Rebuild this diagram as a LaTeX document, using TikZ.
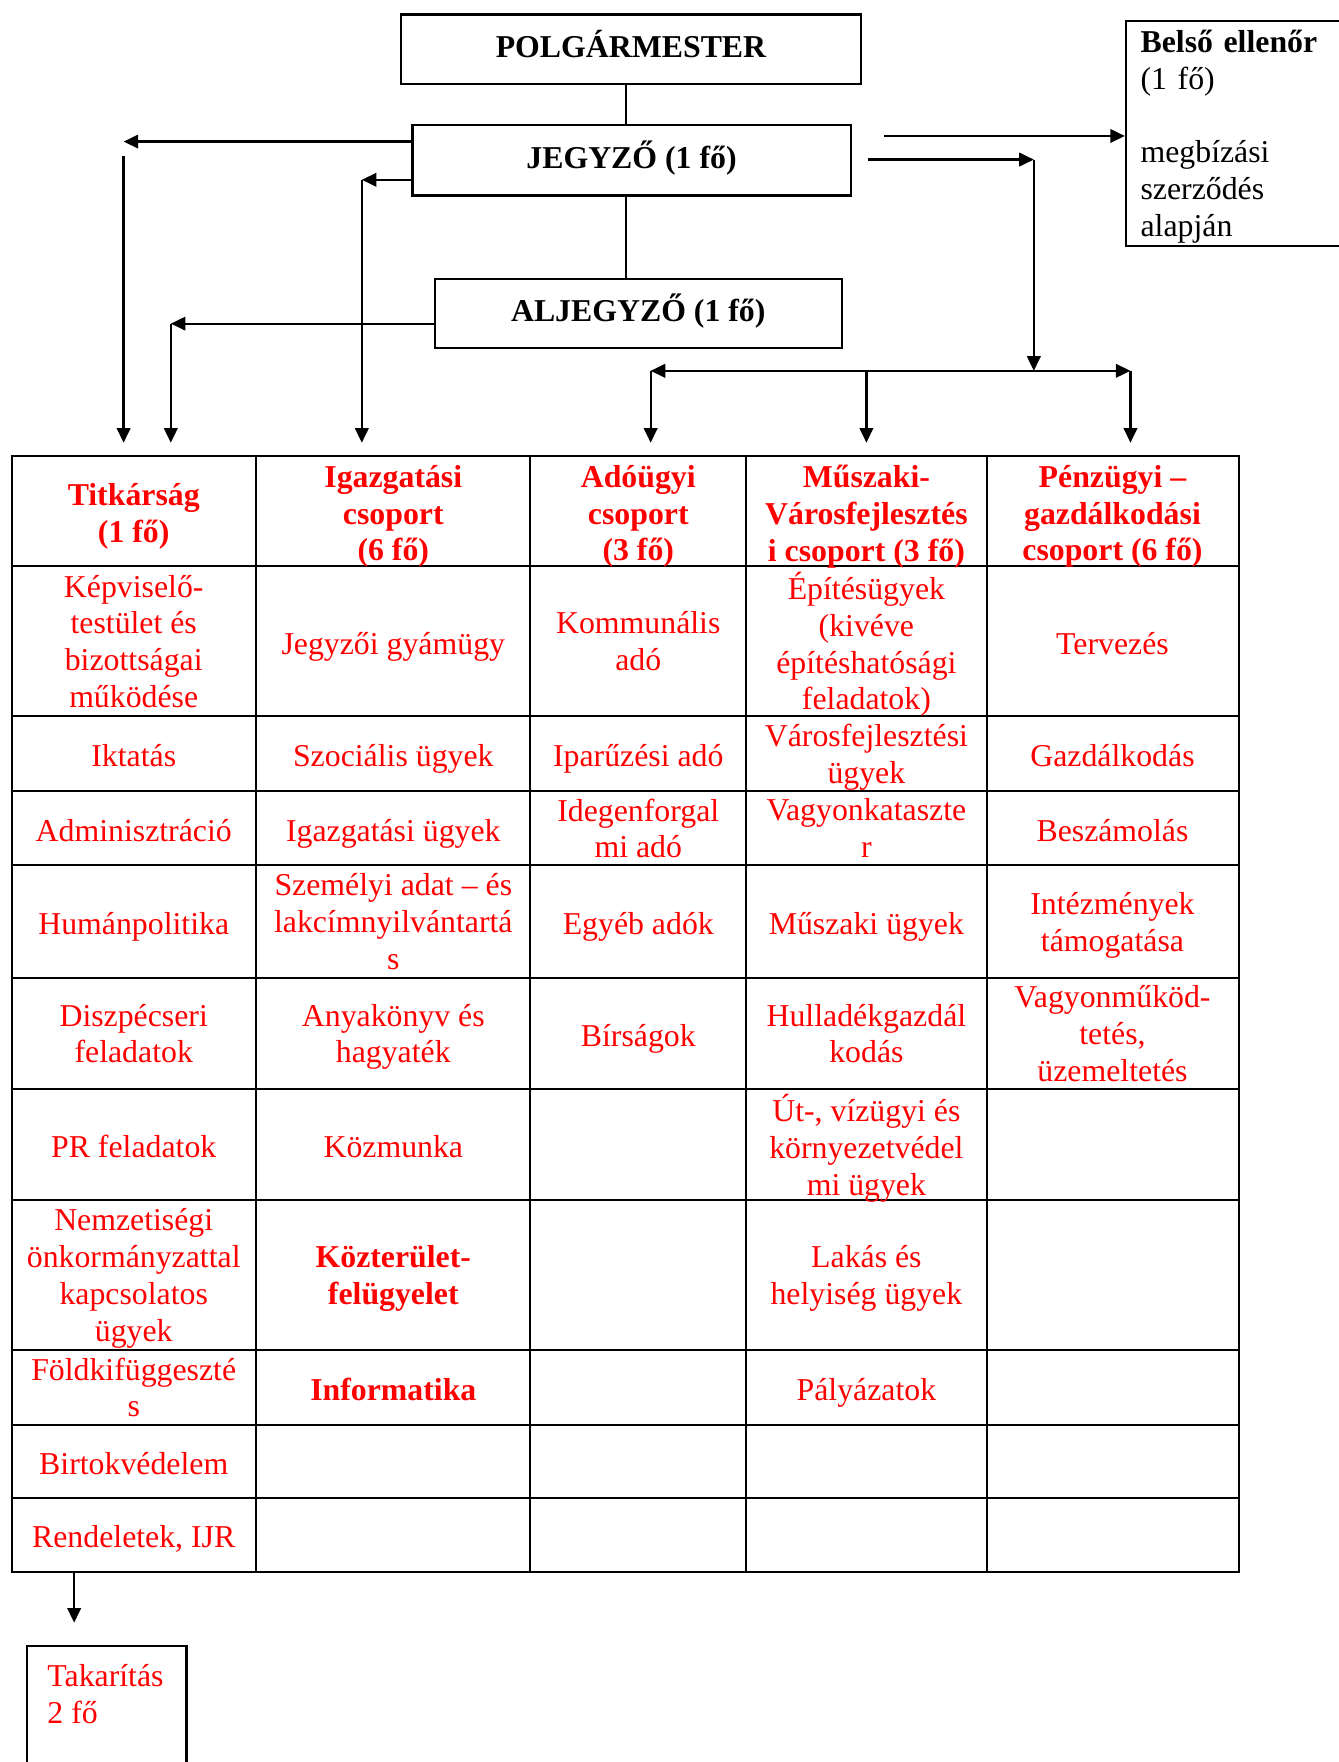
\documentclass[tikz,border=0pt]{standalone}
\usepackage{fontspec}
\setmainfont{Liberation Serif}
\usetikzlibrary{arrows.meta}
\newcommand{\cellfont}{\fontsize{28.3}{32.7}\selectfont}
\begin{document}
\begin{tikzpicture}[x=1pt,y=-1pt,
  tipA/.tip={Triangle[length=13pt,width=12pt]},
  arr/.style={line width=2pt,-{tipA}},
  dblarr/.style={line width=2pt,{tipA}-{tipA}},
  link/.style={line width=1.6pt},
  topbox/.style={draw,line width=2pt,inner sep=0pt,font=\cellfont\bfseries,
    execute at begin node=\strut,execute at end node=\strut},
  cell/.style={text=red,align=center,inner sep=0pt,font=\cellfont,yshift=-5pt,
    execute at begin node=\strut,execute at end node=\strut},
  boldcell/.style={cell,font=\cellfont\bfseries},
  hdr/.style={boldcell,yshift=-2pt},
  grid/.style={line width=1.8pt}]
\useasboundingbox (0,0) rectangle (1191,1568);
\fill[white] (0,0) rectangle (1191,1568);

% ---- top boxes ----
\node[topbox,minimum width=409,minimum height=62] (polg) at (561.5,44) {POLGÁRMESTER};
\node[topbox,minimum width=390,minimum height=63] (jegy) at (562,142.5) {JEGYZŐ (1 fő)};
\node[topbox,minimum width=362,minimum height=62] (aljegy) at (568,279) {ALJEGYZŐ (1 fő)};
\node[draw,line width=2pt,anchor=north west,inner xsep=13pt,inner ysep=0pt,
  text width=180pt,minimum height=200,align=left,font=\cellfont,
  execute at begin node=\strut,execute at end node=\strut] (belso) at (1001,18)
  {\raisebox{-3pt}{\textbf{Belső ellenőr}}\\\raisebox{-3pt}{(1 fő)}\\\strut\\\raisebox{-3pt}{megbízási}\\\raisebox{-3pt}{szerződés}\\\raisebox{-3pt}{alapján}};

% ---- coordinates ----
\coordinate (spine) at (557,0);
\coordinate (L1) at (110,126);
\coordinate (L1s) at (110,139);
\coordinate (L1e) at (110,394);
\coordinate (L2) at (322,160);
\coordinate (L2e) at (322,394);
\coordinate (L3) at (152,288);
\coordinate (L3e) at (152,394);
\coordinate (R1s) at (787,121);
\coordinate (R2s) at (772,142);
\coordinate (R2) at (920,142);
\coordinate (bus) at (920,330);
\coordinate (BL) at (579,330);
\coordinate (BM) at (771,330);
\coordinate (BR) at (1006,330);
\coordinate (BLe) at (579,394);
\coordinate (BMe) at (771,394);
\coordinate (BRe) at (1006,394);
\coordinate (T1) at (66,1398);
\coordinate (T1e) at (66,1444);

% ---- connectors ----
\draw[link] (polg.south -| spine) -- (jegy.north -| spine);
\draw[link] (jegy.south -| spine) -- (aljegy.north -| spine);
\draw[arr] (L1 -| jegy.west) -- (L1);
\draw[arr] (L1s) -- (L1e);
\draw[arr] (L2 -| jegy.west) -- (L2);
\draw[arr] (L2) -- (L2e);
\draw[arr] (L3 -| aljegy.west) -- (L3);
\draw[arr] (L3) -- (L3e);
\draw[arr] (R1s) -- (R1s -| belso.west);
\draw[arr] (R2s) -- (R2);
\draw[arr] (R2) -- (bus);
\draw[dblarr] (BL) -- (BR);
\draw[arr] (BL) -- (BLe);
\draw[arr] (BM) -- (BMe);
\draw[arr] (BR) -- (BRe);

% ---- table ----
\node[draw,grid,anchor=north west,inner sep=0pt,minimum width=1092,minimum height=993] (tbl) at (10,405) {};
\foreach \x in {228,472,664,878} \draw[grid] (\x,405) -- (\x,1398);
\foreach \y in {504,637,704,770,870,969,1068,1201,1268,1333} \draw[grid] (10,\y) -- (1102,\y);

% header
\node[hdr] (h1) at (119,454.5) {Titkárság\\(1 fő)};
\node[hdr] (h2) at (350,454.5) {Igazgatási\\csoport\\(6 fő)};
\node[hdr] (h3) at (568,454.5) {Adóügyi\\csoport\\(3 fő)};
\node[hdr] (h4) at (771,454.5) {Műszaki-\\Városfejlesztés\\i csoport (3 fő)};
\node[hdr] (h5) at (990,454.5) {Pénzügyi –\\gazdálkodási\\csoport (6 fő)};
% row 1
\node[cell] (c11) at (119,570.5) {Képviselő-\\testület és\\bizottságai\\működése};
\node[cell] (c12) at (350,570.5) {Jegyzői gyámügy};
\node[cell] (c13) at (568,570.5) {Kommunális\\adó};
\node[cell] (c14) at (771,570.5) {Építésügyek\\(kivéve\\építéshatósági\\feladatok)};
\node[cell] (c15) at (990,570.5) {Tervezés};
% row 2
\node[cell] (c21) at (119,670.5) {Iktatás};
\node[cell] (c22) at (350,670.5) {Szociális ügyek};
\node[cell] (c23) at (568,670.5) {Iparűzési adó};
\node[cell] (c24) at (771,670.5) {Városfejlesztési\\ügyek};
\node[cell] (c25) at (990,670.5) {Gazdálkodás};
% row 3
\node[cell] (c31) at (119,737) {Adminisztráció};
\node[cell] (c32) at (350,737) {Igazgatási ügyek};
\node[cell] (c33) at (568,737) {Idegenforgal\\mi adó};
\node[cell] (c34) at (771,737) {Vagyonkataszte\\r};
\node[cell] (c35) at (990,737) {Beszámolás};
% row 4
\node[cell] (c41) at (119,820) {Humánpolitika};
\node[cell] (c42) at (350,820) {Személyi adat – és\\lakcímnyilvántartá\\s};
\node[cell] (c43) at (568,820) {Egyéb adók};
\node[cell] (c44) at (771,820) {Műszaki ügyek};
\node[cell] (c45) at (990,820) {Intézmények\\támogatása};
% row 5
\node[cell] (c51) at (119,919.5) {Diszpécseri\\feladatok};
\node[cell] (c52) at (350,919.5) {Anyakönyv és\\hagyaték};
\node[cell] (c53) at (568,919.5) {Bírságok};
\node[cell] (c54) at (771,919.5) {Hulladékgazdál\\kodás};
\node[cell] (c55) at (990,919.5) {Vagyonműköd-\\tetés,\\üzemeltetés};
% row 6
\node[cell] (c61) at (119,1018.5) {PR feladatok};
\node[cell] (c62) at (350,1018.5) {Közmunka};
\node[cell] (c64) at (771,1018.5) {Út-, vízügyi és\\környezetvédel\\mi ügyek};
% row 7
\node[cell] (c71) at (119,1134.5) {Nemzetiségi\\önkormányzattal\\kapcsolatos\\ügyek};
\node[boldcell] (c72) at (350,1134.5) {Közterület-\\felügyelet};
\node[cell] (c74) at (771,1134.5) {Lakás és\\helyiség ügyek};
% row 8
\node[cell] (c81) at (119,1234.5) {Földkifüggeszté\\s};
\node[boldcell] (c82) at (350,1234.5) {Informatika};
\node[cell] (c84) at (771,1234.5) {Pályázatok};
% row 9, 10
\node[cell] (c91) at (119,1300.5) {Birtokvédelem};
\node[cell] (c101) at (119,1365.5) {Rendeletek, IJR};

% ---- bottom box ----
\node[draw,line width=2pt,anchor=north west,inner sep=0pt,minimum width=142,minimum height=150] (takar) at (23,1464) {};
\node[cell,anchor=north west,align=left] (takartext) at (42,1476) {Takarítás\\2 fő};
\draw[arr] (T1) -- (T1e);
\end{tikzpicture}
\end{document}
